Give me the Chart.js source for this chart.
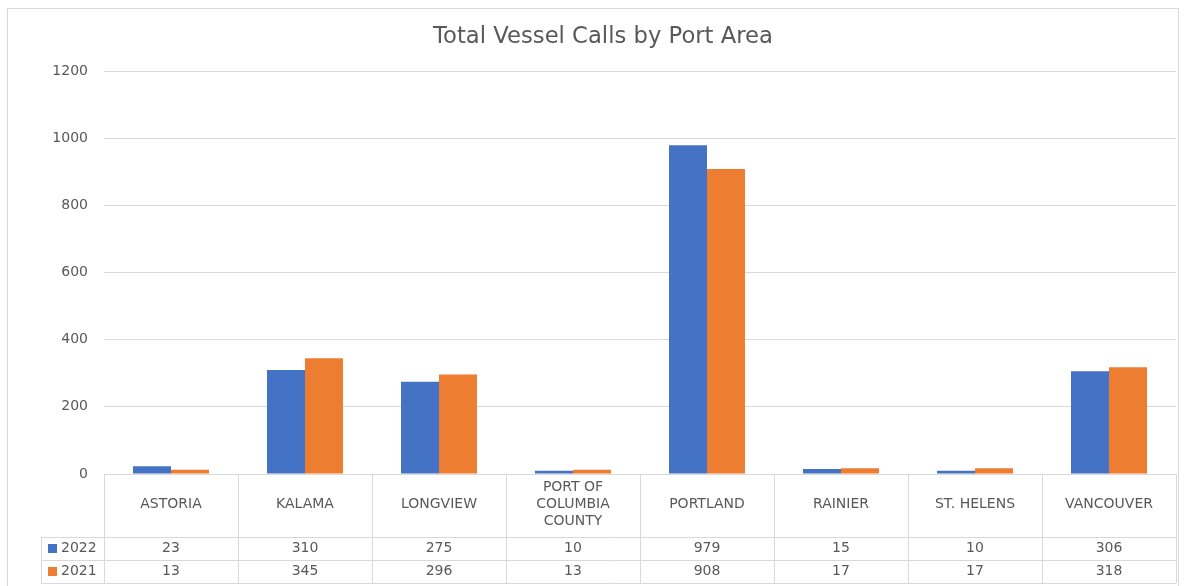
<!DOCTYPE html>
<html>
<head>
<meta charset="utf-8">
<script src="https://cdn.jsdelivr.net/npm/chart.js@4"></script>
<style>
  html, body { margin: 0; padding: 0; background: #fff; }
  #wrap { width: 1186px; height: 586px; }
</style>
</head>
<body>
<div id="wrap"><canvas id="portChart" width="1186" height="586"></canvas></div>
<script>
const TITLE = "Total Vessel Calls by Port Area";
const PORTS = ["ASTORIA", "KALAMA", "LONGVIEW", ["PORT OF", "COLUMBIA", "COUNTY"], "PORTLAND", "RAINIER", "ST. HELENS", "VANCOUVER"];
const CALLS_2022 = [23, 310, 275, 10, 979, 15, 10, 306];
const CALLS_2021 = [13, 345, 296, 13, 908, 17, 17, 318];
const SERIES_LABELS = ["2022", "2021"];

const BLUE = "#4472C4";
const ORANGE = "#ED7D31";
const GRID = "#d9d9d9";
const TEXT = "#595959";
const FONT = "'DejaVu Sans', sans-serif";

/* draws the frame, the title and the data table under the plot */
const dataTablePlugin = {
  id: "dataTable",
  afterDraw(chart) {
    const ctx = chart.ctx;
    const area = chart.chartArea;
    const x = chart.scales.x;
    const colW = (area.right - area.left) / PORTS.length;
    const catBottom = area.bottom + 63;
    const rowH = 23;
    const legendLeft = 41;

    ctx.save();
    ctx.strokeStyle = GRID;
    ctx.lineWidth = 1;

    // frame
    ctx.strokeRect(7.5, 8.5, 1171, 600);

    // title
    ctx.fillStyle = TEXT;
    ctx.font = "22.7px " + FONT;
    ctx.textAlign = "center";
    ctx.textBaseline = "middle";
    ctx.fillText(TITLE, 603, 37);

    // horizontal lines
    const hl = (y, x0) => {
      ctx.beginPath();
      ctx.moveTo(x0, Math.round(y) + 0.5);
      ctx.lineTo(area.right, Math.round(y) + 0.5);
      ctx.stroke();
    };
    hl(area.bottom, area.left);
    hl(catBottom, legendLeft);
    hl(catBottom + rowH, legendLeft);
    hl(catBottom + rowH * 2, legendLeft);

    // vertical lines
    for (let i = 0; i <= PORTS.length; i++) {
      const vx = Math.round(area.left + i * colW) + 0.5;
      ctx.beginPath();
      ctx.moveTo(vx, area.bottom);
      ctx.lineTo(vx, catBottom + rowH * 2);
      ctx.stroke();
    }
    ctx.beginPath();
    ctx.moveTo(legendLeft + 0.5, catBottom);
    ctx.lineTo(legendLeft + 0.5, catBottom + rowH * 2);
    ctx.stroke();

    // text
    ctx.font = "14px " + FONT;
    const catMid = (area.bottom + catBottom) / 2;
    PORTS.forEach((p, i) => {
      const cx = x.getPixelForValue(i);
      const lines = Array.isArray(p) ? p : [p];
      const lh = 17;
      lines.forEach((ln, j) => {
        ctx.fillText(ln, cx, catMid - 1 + (j - (lines.length - 1) / 2) * lh);
      });
      ctx.fillText(String(CALLS_2022[i]), cx, catBottom + rowH / 2 - 0.5);
      ctx.fillText(String(CALLS_2021[i]), cx, catBottom + rowH * 1.5 - 0.5);
    });

    // legend keys
    ctx.textAlign = "left";
    [BLUE, ORANGE].forEach((c, k) => {
      const cy = catBottom + rowH * (k + 0.5);
      ctx.fillStyle = c;
      ctx.fillRect(48, Math.round(cy) - 5, 9, 9);
      ctx.fillStyle = TEXT;
      ctx.fillText(SERIES_LABELS[k], 61, cy);
    });
    ctx.restore();
  }
};

new Chart(document.getElementById("portChart"), {
  type: "bar",
  data: {
    labels: PORTS,
    datasets: [
      { label: SERIES_LABELS[0], data: CALLS_2022, backgroundColor: BLUE },
      { label: SERIES_LABELS[1], data: CALLS_2021, backgroundColor: ORANGE }
    ]
  },
  options: {
    responsive: false,
    animation: false,
    devicePixelRatio: 1,
    layout: { padding: { left: 0, right: 10, top: 71, bottom: 112 } },
    plugins: {
      legend: { display: false },
      tooltip: { enabled: false },
      title: { display: false }
    },
    datasets: {
      bar: { categoryPercentage: 0.567, barPercentage: 1.0 }
    },
    scales: {
      x: {
        ticks: { display: false },
        grid: { display: false, drawTicks: false },
        border: { display: false }
      },
      y: {
        min: 0,
        max: 1200,
        ticks: {
          stepSize: 200,
          color: TEXT,
          padding: 16,
          font: { family: FONT, size: 14 },
          callback: v => String(v)
        },
        grid: { color: GRID, drawTicks: false },
        border: { display: false },
        afterFit(scale) { scale.width = 104; }
      }
    }
  },
  plugins: [dataTablePlugin]
});
</script>
</body>
</html>
